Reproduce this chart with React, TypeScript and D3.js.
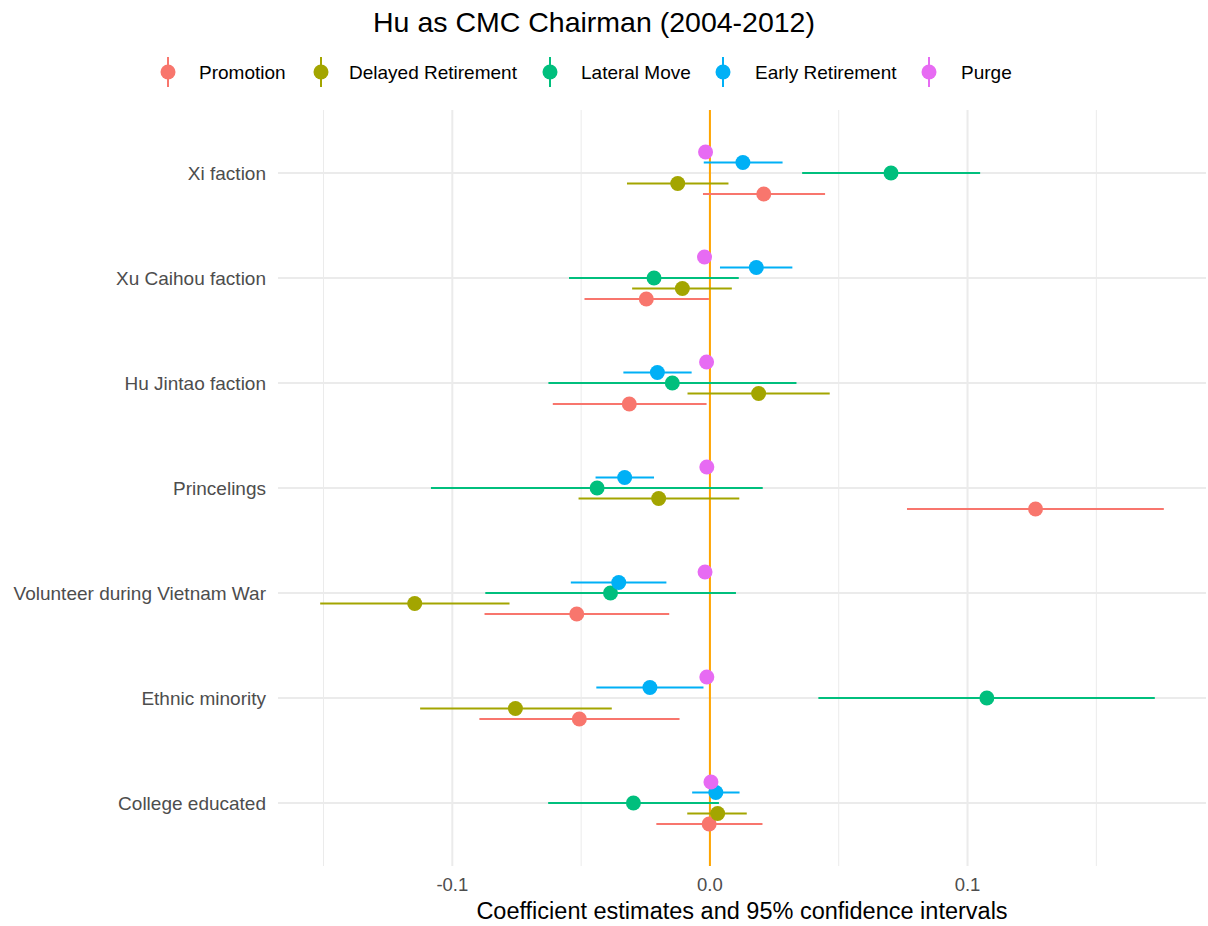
import React from "react";
import * as d3 from "d3";

const title = "Hu as CMC Chairman (2004-2012)";
const xTitle = "Coefficient estimates and 95% confidence intervals";

// Covariates, top to bottom
const covariates = [
  "Xi faction",
  "Xu Caihou faction",
  "Hu Jintao faction",
  "Princelings",
  "Volunteer during Vietnam War",
  "Ethnic minority",
  "College educated",
];

// Outcomes (legend order)
const outcomes = ["Promotion", "Delayed Retirement", "Lateral Move", "Early Retirement", "Purge"];
const outcomeColors = ["#F8766D", "#A3A500", "#00BF7D", "#00B0F6", "#E76BF3"];

// Estimates per outcome, in covariate order
const promotionEst = [0.0209, -0.0247, -0.0313, 0.1264, -0.0517, -0.0507, -0.0003];
const promotionLo = [-0.0027, -0.0487, -0.061, 0.0765, -0.0875, -0.0895, -0.0208];
const promotionHi = [0.0447, -0.0004, -0.0013, 0.1762, -0.0158, -0.0118, 0.0204];

const delayedEst = [-0.0125, -0.0107, 0.0189, -0.0199, -0.1146, -0.0755, 0.003];
const delayedLo = [-0.0322, -0.0302, -0.0087, -0.051, -0.1513, -0.1125, -0.0088];
const delayedHi = [0.0072, 0.0085, 0.0465, 0.0114, -0.0778, -0.0381, 0.0143];

const lateralEst = [0.0703, -0.0217, -0.0146, -0.0438, -0.0386, 0.1075, -0.0297];
const lateralLo = [0.0358, -0.0547, -0.0627, -0.1083, -0.0872, 0.0421, -0.0628];
const lateralHi = [0.1049, 0.0112, 0.0336, 0.0205, 0.0101, 0.1727, 0.0035];

const earlyEst = [0.0128, 0.018, -0.0204, -0.0331, -0.0354, -0.0233, 0.0023];
const earlyLo = [-0.0024, 0.0039, -0.0336, -0.0444, -0.054, -0.0441, -0.0069];
const earlyHi = [0.0282, 0.032, -0.0071, -0.0217, -0.0169, -0.0025, 0.0115];

const purgeEst = [-0.0017, -0.0021, -0.0013, -0.0012, -0.0019, -0.0012, 0.0004];
const purgeLo = [-0.0022, -0.0026, -0.0018, -0.0017, -0.0024, -0.0017, -0.0001];
const purgeHi = [-0.0012, -0.0016, -0.0008, -0.0007, -0.0014, -0.0007, 0.0009];

const xTicks = [-0.1, 0, 0.1];
const xTickLabels = ["-0.1", "0.0", "0.1"];
const xMinor = [-0.15, -0.05, 0.05, 0.15];

const seriesEst = [promotionEst, delayedEst, lateralEst, earlyEst, purgeEst];
const seriesLo = [promotionLo, delayedLo, lateralLo, earlyLo, purgeLo];
const seriesHi = [promotionHi, delayedHi, lateralHi, earlyHi, purgeHi];

const W = 1208;
const H = 926;
const panel = { left: 278, right: 1206, top: 110, bottom: 866 };
const FONT = "'Liberation Sans', Arial, Helvetica, sans-serif";

export default function App() {
  const allLo = seriesLo.flat();
  const allHi = seriesHi.flat();
  const lo = d3.min(allLo) as number;
  const hi = d3.max(allHi) as number;
  const pad = (hi - lo) * 0.05;
  const x = d3.scaleLinear().domain([lo - pad, hi + pad]).range([panel.left, panel.right]);

  // discrete y axis with 0.6 expansion each side
  const y = d3
    .scalePoint<string>()
    .domain(covariates)
    .range([panel.top, panel.bottom])
    .padding(0.6);
  const step = y.step();

  // dodge: last outcome at top, first at bottom
  const dodge = d3
    .scalePoint<string>()
    .domain([...outcomes].reverse())
    .range([-step * 0.2, step * 0.2]);

  const legendY = 72;
  const legendItems = [
    { dot: 168, text: 199 },
    { dot: 321, text: 349 },
    { dot: 550, text: 581 },
    { dot: 723, text: 755 },
    { dot: 929, text: 961 },
  ];

  return (
    <svg width={W} height={H} style={{ position: "absolute", left: 0, top: 0, background: "#fff" }}>
      <rect width={W} height={H} fill="#fff" />
      <text x={594} y={32} textAnchor="middle" fontFamily={FONT} fontSize={28.5} fill="#000">
        {title}
      </text>

      {/* legend */}
      {outcomes.map((o, i) => (
        <g key={o}>
          <line
            x1={legendItems[i].dot}
            x2={legendItems[i].dot}
            y1={legendY - 15}
            y2={legendY + 15}
            stroke={outcomeColors[i]}
            strokeWidth={2}
          />
          <circle cx={legendItems[i].dot} cy={legendY} r={7.5} fill={outcomeColors[i]} />
          <text x={legendItems[i].text} y={legendY + 7} fontFamily={FONT} fontSize={19} fill="#000">
            {o}
          </text>
        </g>
      ))}

      {/* grid */}
      {xMinor.map((v) => (
        <line key={"mn" + v} x1={x(v)} x2={x(v)} y1={panel.top} y2={panel.bottom} stroke="#ebebeb" strokeWidth={1} />
      ))}
      {xTicks.map((v) => (
        <line key={"mj" + v} x1={x(v)} x2={x(v)} y1={panel.top} y2={panel.bottom} stroke="#ebebeb" strokeWidth={2} />
      ))}
      {covariates.map((c) => (
        <line key={"hy" + c} x1={panel.left} x2={panel.right} y1={y(c)} y2={y(c)} stroke="#ebebeb" strokeWidth={2} />
      ))}

      {/* zero reference */}
      <line x1={x(0)} x2={x(0)} y1={panel.top} y2={panel.bottom} stroke="#FFA500" strokeWidth={2} />

      {/* point ranges */}
      {outcomes.map((o, s) => (
        <g key={o}>
          {covariates.map((c, i) => {
            const cy = (y(c) as number) + (dodge(o) as number);
            return (
              <g key={c}>
                <line
                  x1={x(seriesLo[s][i])}
                  x2={x(seriesHi[s][i])}
                  y1={cy}
                  y2={cy}
                  stroke={outcomeColors[s]}
                  strokeWidth={2.2}
                />
                <circle cx={x(seriesEst[s][i])} cy={cy} r={7.5} fill={outcomeColors[s]} />
              </g>
            );
          })}
        </g>
      ))}

      {/* y axis labels */}
      {covariates.map((c) => (
        <text
          key={"yl" + c}
          x={266}
          y={(y(c) as number) + 6.5}
          textAnchor="end"
          fontFamily={FONT}
          fontSize={19}
          fill="#4d4d4d"
        >
          {c}
        </text>
      ))}

      {/* x axis labels */}
      {xTicks.map((v, i) => (
        <text key={"xl" + v} x={x(v)} y={891} textAnchor="middle" fontFamily={FONT} fontSize={18.5} fill="#4d4d4d">
          {xTickLabels[i]}
        </text>
      ))}
      <text
        x={(panel.left + panel.right) / 2}
        y={919}
        textAnchor="middle"
        fontFamily={FONT}
        fontSize={23.5}
        fill="#000"
      >
        {xTitle}
      </text>
    </svg>
  );
}
